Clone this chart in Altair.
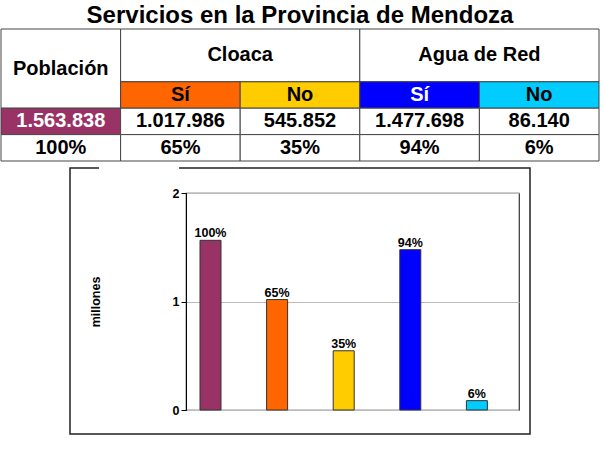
import altair as alt
import pandas as pd

# ---------------- data ----------------
title_text = "Servicios en la Provincia de Mendoza"
categories = ["Población", "Cloaca Sí", "Cloaca No", "Agua Sí", "Agua No"]
values_millions = [1.563838, 1.017986, 0.545852, 1.477698, 0.086140]
pct_labels = ["100%", "65%", "35%", "94%", "6%"]
value_labels = ["1.563.838", "1.017.986", "545.852", "1.477.698", "86.140"]
bar_colors = ["#993366", "#FF6600", "#FFCC00", "#0000FF", "#00CCFF"]
group_labels = ["Cloaca", "Agua de Red"]
sub_labels = ["Sí", "No", "Sí", "No"]
row_header = "Población"
y_ticks = [0, 1, 2]
y_title = "millones"

FONT = "Liberation Sans"

# ---------------- table cells (grid indices) ----------------
cells = []
cells.append(dict(c0=0, c1=1, r0=0, r1=3, fill="white", txt=row_header, tc="black"))
for i, g in enumerate(group_labels):
    cells.append(dict(c0=1 + 2 * i, c1=3 + 2 * i, r0=0, r1=2, fill="white", txt=g, tc="black"))
for j, s in enumerate(sub_labels):
    cells.append(dict(c0=1 + j, c1=2 + j, r0=2, r1=3, fill=bar_colors[j + 1], txt=s,
                      tc="white" if bar_colors[j + 1] == "#0000FF" else "black"))
for k, v in enumerate(value_labels):
    cells.append(dict(c0=k, c1=k + 1, r0=3, r1=4, fill=bar_colors[0] if k == 0 else "white",
                      txt=v, tc="white" if k == 0 else "black"))
for k, p in enumerate(pct_labels):
    cells.append(dict(c0=k, c1=k + 1, r0=4, r1=5, fill="white", txt=p, tc="black"))
table_df = pd.DataFrame(cells)
table_df["xc"] = (table_df["c0"] + table_df["c1"]) / 2
table_df["yc"] = (table_df["r0"] + table_df["r1"]) / 2

tx = alt.Scale(domain=[0, 5], range=[-185, 413])
ty = alt.Scale(domain=[0, 5], range=[-164, -32])

table_rects = alt.Chart(table_df).mark_rect(stroke="#444", strokeWidth=1).encode(
    x=alt.X("c0:Q", scale=tx, axis=None),
    x2="c1:Q",
    y=alt.Y("r0:Q", scale=ty, axis=None),
    y2="r1:Q",
    fill=alt.Fill("fill:N", scale=None),
)
table_texts = alt.Chart(table_df).mark_text(
    font=FONT, fontWeight="bold", fontSize=20, baseline="middle", align="center"
).encode(
    x=alt.X("xc:Q", scale=tx, axis=None),
    y=alt.Y("yc:Q", scale=ty, axis=None),
    text="txt:N",
    fill=alt.Fill("tc:N", scale=None),
)
table_layer = alt.layer(table_rects, table_texts)

# ---------------- bar chart ----------------
bars_df = pd.DataFrame({"cat": categories, "val": values_millions,
                        "pct": pct_labels, "color": bar_colors})

xb = alt.X("cat:N", sort=categories, axis=None,
           scale=alt.Scale(paddingInner=0, paddingOuter=0))
yb = alt.Y("val:Q", scale=alt.Scale(domain=[min(y_ticks), max(y_ticks)], nice=False),
           axis=alt.Axis(tickCount=len(y_ticks) - 1, title=y_title, labelOverlap=False,
                         titleX=-91, titleY=108.5, titleAngle=-90,
                         titleAlign="center", titleBaseline="middle",
                         titleFont=FONT, titleFontSize=12.5, titleFontWeight="bold",
                         titleColor="black",
                         labelFont=FONT, labelFontSize=12.5, labelFontWeight="bold",
                         labelColor="black", labelPadding=2,
                         domainColor="black", domainWidth=1,
                         tickColor="black", tickSize=5,
                         grid=True, gridColor="#bbbbbb", gridWidth=1))

bars = alt.Chart(bars_df).mark_bar(size=21, stroke="#333", strokeWidth=1, xOffset=-8.8).encode(
    x=xb, y=yb, fill=alt.Fill("color:N", scale=None)
)
labels = alt.Chart(bars_df).mark_text(
    font=FONT, fontWeight="bold", fontSize=12.5, baseline="alphabetic", dy=-3, xOffset=-8.8
).encode(x=xb, y=alt.Y("val:Q"), text="pct:N")
bar_layer = alt.layer(bars, labels)

# ---------------- decorations ----------------
one = pd.DataFrame({"k": [0]})
frame = alt.Chart(one).mark_rect(fillOpacity=0, stroke="#222", strokeWidth=1.5).encode(
    x=alt.value(-116), x2=alt.value(344), y=alt.value(-25), y2=alt.value(241)
)
gap = alt.Chart(one).mark_rule(color="white", strokeWidth=3).encode(
    x=alt.value(-87), x2=alt.value(-7), y=alt.value(-25)
)
title = alt.Chart(one).mark_text(
    font=FONT, fontWeight="bold", fontSize=24, baseline="middle", align="center"
).encode(x=alt.value(114), y=alt.value(-177), text=alt.value(title_text))

chart = alt.layer(bar_layer, table_layer, frame, gap, title).resolve_scale(
    x="independent", y="independent"
).properties(
    width=333, height=217,
    padding={"left": 186, "top": 193, "right": 86, "bottom": 40},
    autosize="none",
    background="white",
).configure_view(stroke="#333", strokeWidth=1.2)

chart.save("out.html", embed_options={"renderer": "svg", "actions": False})
